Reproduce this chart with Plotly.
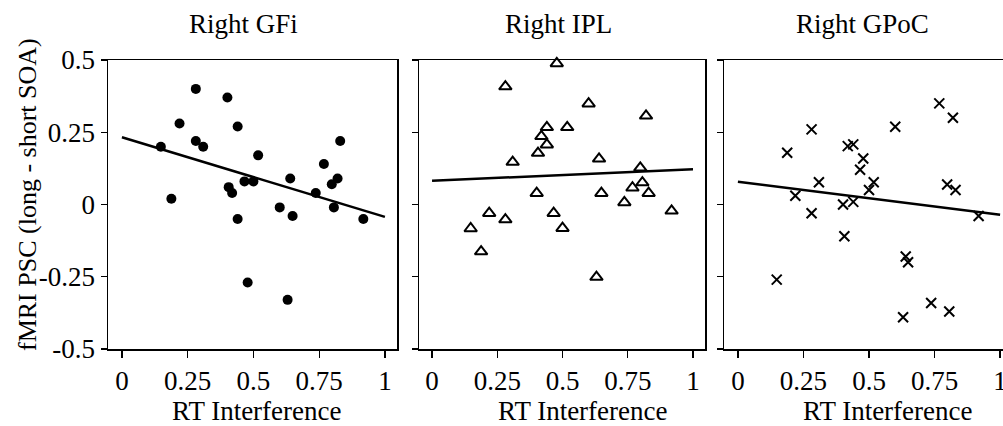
import numpy as np
import plotly.graph_objects as go

# ---- data ----
rt_interference = [0.148, 0.188, 0.219, 0.281, 0.281, 0.309, 0.401, 0.406, 0.419, 0.440,
                   0.440, 0.466, 0.478, 0.500, 0.518, 0.600, 0.630, 0.640, 0.649, 0.737,
                   0.768, 0.798, 0.806, 0.820, 0.830, 0.918]
psc_gfi = [0.20, 0.02, 0.28, 0.40, 0.22, 0.20, 0.37, 0.06, 0.04, 0.27,
           -0.05, 0.08, -0.27, 0.08, 0.17, -0.01, -0.33, 0.09, -0.04, 0.04,
           0.14, 0.07, -0.01, 0.09, 0.22, -0.05]
psc_ipl = [-0.083, -0.163, -0.030, 0.408, -0.052, 0.147, 0.039, 0.178, 0.236, 0.267,
           0.207, -0.030, 0.488, -0.082, 0.267, 0.349, -0.251, 0.158, 0.039, 0.007,
           0.058, 0.127, 0.076, 0.307, 0.039, -0.022]
psc_gpoc = [-0.260, 0.179, 0.030, 0.260, -0.030, 0.077, 0.000, -0.110, 0.202, 0.208,
            0.009, 0.120, 0.159, 0.050, 0.077, 0.269, -0.390, -0.180, -0.200, -0.341,
            0.350, 0.069, -0.370, 0.300, 0.050, -0.040]
panel_titles = ["Right GFi", "Right IPL", "Right GPoC"]
x_title = "RT Interference"
y_title = "fMRI PSC (long - short SOA)"
x_tickvals = [0, 0.25, 0.5, 0.75, 1]
x_ticktext = ["0", "0.25", "0.5", "0.75", "1"]
y_tickvals = [-0.5, -0.25, 0, 0.25, 0.5]
y_ticktext = ["-0.5", "-0.25", "0", "0.25", "0.5"]
fit_x = [0, 1]

W, H = 1003, 426
FONT = "Liberation Serif"
FS = 27

def px_x(p):
    return p / W

def px_y(p):
    return 1 - p / H

panels = [
    dict(y=psc_gfi, symbol="circle", size=10, lw=0,
         dom=(108, 397), rng=(-0.053, 1.046), mirror_y=True, tcx=243, xtcx=257),
    dict(y=psc_ipl, symbol="triangle-up-open", size=11, lw=2,
         dom=(419, 705), rng=(-0.050, 1.046), mirror_y=True, tcx=558, xtcx=583),
    dict(y=psc_gpoc, symbol="x-thin-open", size=10, lw=2,
         dom=(724, 1003), rng=(-0.053, 1.011), mirror_y=False, tcx=862, xtcx=888),
]

fig = go.Figure()
ydom = [px_y(349), px_y(60)]

for i, p in enumerate(panels):
    k = "" if i == 0 else str(i + 1)
    xa, ya = "x" + k, "y" + k
    fig.add_trace(go.Scatter(
        x=rt_interference, y=p["y"], mode="markers", xaxis=xa, yaxis=ya,
        marker=dict(symbol=p["symbol"], size=p["size"], color="black",
                    line=dict(color="black", width=p["lw"])),
        showlegend=False, hoverinfo="skip", cliponaxis=False))
    slope, intercept = np.polyfit(rt_interference, p["y"], 1)
    fy = [intercept + slope * v for v in fit_x]
    fig.add_trace(go.Scatter(
        x=fit_x, y=fy, mode="lines", xaxis=xa, yaxis=ya,
        line=dict(color="black", width=2.5), showlegend=False, hoverinfo="skip"))

    fig.layout["xaxis" + k] = dict(
        domain=[px_x(p["dom"][0]), min(px_x(p["dom"][1]), 1.0)],
        range=list(p["rng"]), anchor=ya, automargin=False,
        tickmode="array", tickvals=x_tickvals, ticktext=x_ticktext,
        ticks="outside", ticklen=7, tickwidth=1.3, tickcolor="black",
        ticklabeloverflow="allow",
        showline=True, linecolor="black", linewidth=1.5, mirror=True,
        showgrid=False, zeroline=False,
        tickfont=dict(family=FONT, size=FS, color="black"))
    fig.layout["yaxis" + k] = dict(
        domain=ydom, range=[-0.5, 0.5], anchor=xa, automargin=False,
        tickmode="array", tickvals=y_tickvals, ticktext=y_ticktext,
        showticklabels=(i == 0),
        ticks="outside", ticklen=6, tickwidth=1.3, tickcolor="black",
        showline=True, linecolor="black", linewidth=1.5, mirror=p["mirror_y"],
        showgrid=False, zeroline=False,
        tickfont=dict(family=FONT, size=FS, color="black"))

    fig.add_annotation(text=panel_titles[i], x=px_x(p["tcx"]), y=px_y(24),
                       xref="paper", yref="paper", showarrow=False,
                       xanchor="center", yanchor="middle",
                       font=dict(family=FONT, size=FS, color="black"))
    fig.add_annotation(text=x_title, x=px_x(p["xtcx"]), y=px_y(411),
                       xref="paper", yref="paper", showarrow=False,
                       xanchor="center", yanchor="middle",
                       font=dict(family=FONT, size=FS, color="black"))

# y-axis title
fig.add_annotation(text=y_title, x=px_x(27), y=px_y(195),
                   xref="paper", yref="paper", showarrow=False, textangle=-90,
                   xanchor="center", yanchor="middle",
                   font=dict(family=FONT, size=26, color="black"))

fig.update_layout(template="none", width=W, height=H,
                  margin=dict(l=0, r=0, t=0, b=0, autoexpand=False),
                  plot_bgcolor="white", paper_bgcolor="white",
                  font=dict(family=FONT, size=FS, color="black"))

fig.write_html("out.html",
               config={"displayModeBar": False, "staticPlot": True},
               post_script="document.body.style.margin='0';"
                           "document.body.style.overflow='hidden';")
